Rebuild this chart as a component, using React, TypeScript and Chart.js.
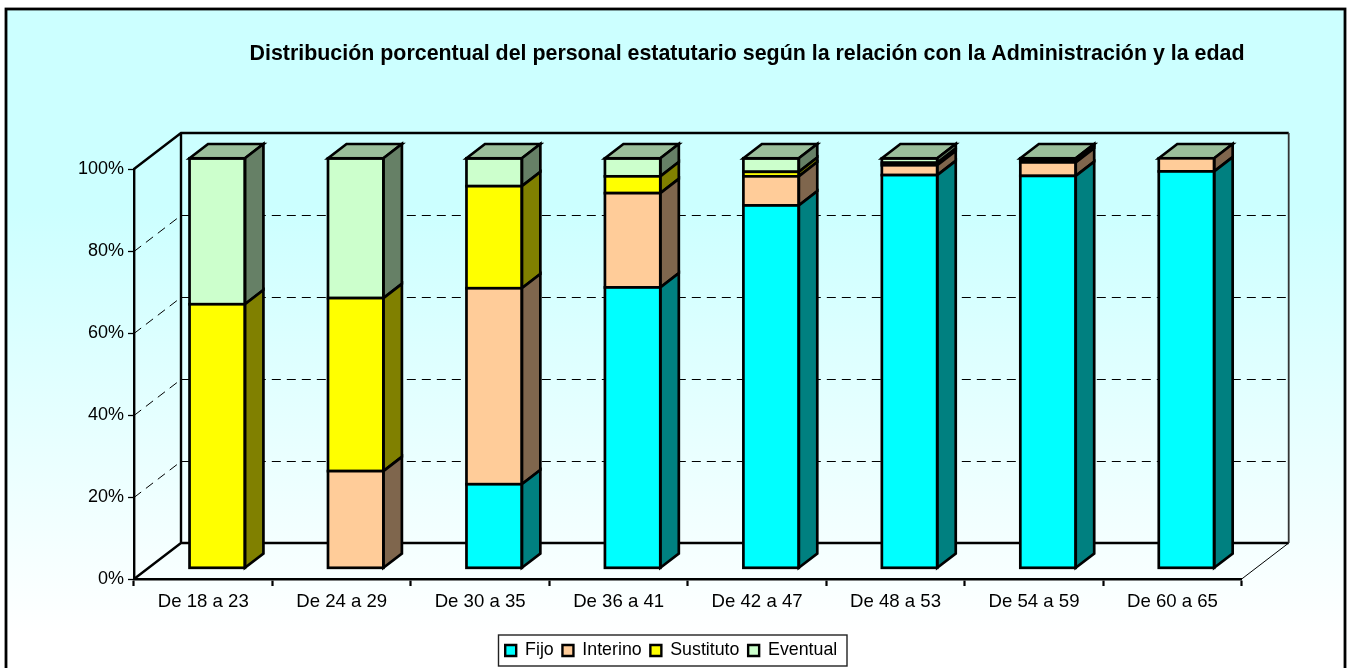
import React, { useEffect, useRef } from "react";
import { Chart, registerables } from "chart.js";

Chart.register(...registerables);

const categories = ["De 18 a 23", "De 24 a 29", "De 30 a 35", "De 36 a 41", "De 42 a 47", "De 48 a 53", "De 54 a 59", "De 60 a 65"];
const fijo = [0, 0, 20.5, 68.5, 88.5, 95.9, 95.7, 96.8];
const interino = [0, 23.7, 47.8, 23, 7.1, 2.4, 3.3, 3.2];
const sustituto = [64.4, 42.2, 24.9, 4.1, 1.1, 0.6, 0.6, 0];
const eventual = [35.6, 34.1, 6.8, 4.4, 3.3, 1.1, 0.4, 0];
const titleText = "Distribución porcentual del personal estatutario según la relación con la Administración y la edad";

const FONT = "'Liberation Sans', Arial, sans-serif";
const W = 1349;
const H = 668;
const AREA_TOP = 169;
const AREA_BOTTOM = 579;
const AREA_LEFT = 134;
const AREA_RIGHT = 1241.7;
const WALL_DX = 47;
const WALL_DY = -36;
const BAR_OFF_X = 14;
const BAR_OFF_Y = -10.7;
const BAR_DX = 18.5;
const BAR_DY = -14.3;
const TITLE_SIZE = 21.4;
const LEGEND_SIZE = 17.8;
const LEGEND_PAD = 8.7;

const sideColors = ["#008080", "#7F664D", "#808000", "#668066"];
const TOP_COLOR = "#9BBF9B";

const frame3d = {
  id: "frame3d",
  afterLayout(chart: any) {
    if (chart.titleBlock) {
      chart.titleBlock.left = 249;
      chart.titleBlock.right = 1245;
    }
    if (chart.legend) {
      chart.legend.left = 496.5;
      chart.legend.right = 847;
      chart.legend.top = 632.9;
      chart.legend.bottom = 666;
    }
  },
  beforeDraw(chart: any) {
    const { ctx } = chart;
    ctx.save();
    ctx.fillStyle = "#ffffff";
    ctx.fillRect(0, 0, W, H);
    const g = ctx.createLinearGradient(0, 9, 0, 668);
    g.addColorStop(0, "#CCFFFF");
    g.addColorStop(0.3, "#CCFFFF");
    g.addColorStop(0.95, "#FFFFFF");
    g.addColorStop(1, "#FFFFFF");
    ctx.fillStyle = g;
    ctx.fillRect(6, 9, 1339, 670);
    ctx.strokeStyle = "#000";
    ctx.lineWidth = 2.8;
    ctx.strokeRect(6, 9, 1339, 670);
    // legend frame
    ctx.fillStyle = "#fff";
    ctx.fillRect(498.5, 635, 348.5, 31);
    ctx.strokeStyle = "#222";
    ctx.lineWidth = 1.4;
    ctx.strokeRect(498.5, 635, 348.5, 31);
    ctx.restore();
  },
  beforeDatasetsDraw(chart: any) {
    const { ctx, scales } = chart;
    const y = scales.y;
    const x0 = AREA_LEFT;
    const x1 = AREA_LEFT + WALL_DX;
    const xr = AREA_RIGHT + WALL_DX;
    ctx.save();
    ctx.strokeStyle = "#000";
    // dashed grid lines on both walls
    ctx.lineWidth = 1;
    ctx.setLineDash([9, 6]);
    y.ticks.forEach((t: any) => {
      if (t.value <= 0 || t.value >= 100) return;
      const py = Math.round(y.getPixelForValue(t.value)) + 0.5;
      ctx.beginPath();
      ctx.moveTo(x0, py);
      ctx.lineTo(x1, py + WALL_DY);
      ctx.lineTo(xr, py + WALL_DY);
      ctx.stroke();
    });
    ctx.setLineDash([]);
    const top = y.getPixelForValue(100);
    const bot = y.getPixelForValue(0);
    ctx.lineWidth = 2.4;
    ctx.beginPath();
    ctx.moveTo(x0, top);
    ctx.lineTo(x1, top + WALL_DY);
    ctx.lineTo(xr, top + WALL_DY);
    ctx.moveTo(x1, top + WALL_DY);
    ctx.lineTo(x1, bot + WALL_DY);
    ctx.lineTo(xr, bot + WALL_DY);
    ctx.moveTo(x0, bot);
    ctx.lineTo(x1, bot + WALL_DY);
    ctx.stroke();
    ctx.lineWidth = 1.8;
    ctx.strokeStyle = "#333";
    ctx.beginPath();
    ctx.moveTo(xr, top + WALL_DY);
    ctx.lineTo(xr, bot + WALL_DY);
    ctx.stroke();
    ctx.lineWidth = 1;
    ctx.strokeStyle = "#000";
    ctx.beginPath();
    ctx.moveTo(AREA_RIGHT, bot);
    ctx.lineTo(xr, bot + WALL_DY);
    ctx.stroke();
    ctx.restore();
    // bars sit inside the floor depth
    ctx.save();
    ctx.translate(BAR_OFF_X, BAR_OFF_Y);
  },
  afterDatasetDraw(chart: any, args: any) {
    const { ctx, scales } = chart;
    const i = args.index;
    const meta = chart.getDatasetMeta(i);
    const full = scales.y.getPixelForValue(100);
    ctx.save();
    ctx.lineJoin = "miter";
    ctx.lineWidth = 2.7;
    ctx.strokeStyle = "#000";
    meta.data.forEach((bar: any) => {
      const p = bar.getProps(["x", "y", "base", "width"], true);
      const l = p.x - p.width / 2;
      const r = p.x + p.width / 2;
      if (i === 3) {
        ctx.fillStyle = TOP_COLOR;
        ctx.beginPath();
        ctx.moveTo(l, full);
        ctx.lineTo(l + BAR_DX, full + BAR_DY);
        ctx.lineTo(r + BAR_DX, full + BAR_DY);
        ctx.lineTo(r, full);
        ctx.closePath();
        ctx.fill();
        ctx.stroke();
      }
      if (Math.abs(p.base - p.y) < 0.01) return;
      ctx.fillStyle = sideColors[i];
      ctx.beginPath();
      ctx.moveTo(r, p.base);
      ctx.lineTo(r + BAR_DX, p.base + BAR_DY);
      ctx.lineTo(r + BAR_DX, p.y + BAR_DY);
      ctx.lineTo(r, p.y);
      ctx.closePath();
      ctx.fill();
      ctx.stroke();
      ctx.strokeRect(l, p.y, p.width, p.base - p.y);
    });
    ctx.restore();
  },
  afterDatasetsDraw(chart: any) {
    chart.ctx.restore();
  },
};

export default function App() {
  const ref = useRef<HTMLCanvasElement>(null);
  useEffect(() => {
    const mk = (label: string, data: number[], color: string) => ({
      label,
      data,
      backgroundColor: color,
      borderWidth: 0,
      clip: false as any,
      categoryPercentage: 1,
      barPercentage: 0.4,
    });
    const chart = new Chart(ref.current as HTMLCanvasElement, {
      type: "bar",
      data: {
        labels: categories,
        datasets: [
          mk("Fijo", fijo, "#00FFFF"),
          mk("Interino", interino, "#FFCC99"),
          mk("Sustituto", sustituto, "#FFFF00"),
          mk("Eventual", eventual, "#CCFFCC"),
        ],
      },
      options: {
        responsive: false,
        animation: false,
        layout: { padding: { left: 0, top: 0, bottom: 0, right: W - AREA_RIGHT } },
        plugins: {
          tooltip: { enabled: false },
          title: {
            display: true,
            text: titleText,
            color: "#000",
            align: "center",
            font: { family: FONT, size: TITLE_SIZE, weight: "bold" },
            padding: { top: 41, bottom: AREA_TOP - 41 - TITLE_SIZE * 1.2 },
          },
          legend: {
            display: true,
            position: "bottom",
            align: "start",
            labels: {
              color: "#000",
              boxWidth: 11,
              boxHeight: 11,
              padding: LEGEND_PAD,
              font: { family: FONT, size: LEGEND_SIZE },
              generateLabels(c: any) {
                return Chart.defaults.plugins.legend.labels.generateLabels(c).map((l: any) => ({
                  ...l,
                  strokeStyle: "#000",
                  lineWidth: 2.4,
                }));
              },
            },
          },
        },
        scales: {
          x: {
            stacked: true,
            afterFit(s: any) {
              s.height = H - AREA_BOTTOM - (LEGEND_SIZE + LEGEND_PAD + 10);
            },
            border: { display: true, color: "#000", width: 2.6 },
            grid: { display: true, drawOnChartArea: false, drawTicks: true, tickLength: 7, tickColor: "#000", tickWidth: 2.2 },
            ticks: { color: "#000", padding: 5, maxRotation: 0, autoSkip: false, font: { family: FONT, size: 18.6 } },
          },
          y: {
            stacked: true,
            min: 0,
            max: 100,
            afterFit(s: any) {
              s.width = AREA_LEFT;
            },
            border: { display: true, color: "#000", width: 2.4 },
            grid: { display: true, drawOnChartArea: false, drawTicks: true, tickLength: 6, tickColor: "#000", tickWidth: 1.3 },
            ticks: {
              color: "#000",
              stepSize: 20,
              padding: 4,
              font: { family: FONT, size: 18 },
              callback: (v: any) => v + "%",
            },
          },
        },
      } as any,
      plugins: [frame3d],
    });
    return () => chart.destroy();
  }, []);
  return (
    <div style={{ position: "fixed", left: 0, top: 0, width: W, height: H }}>
      <canvas ref={ref} width={W} height={H} style={{ display: "block" }} />
    </div>
  );
}
